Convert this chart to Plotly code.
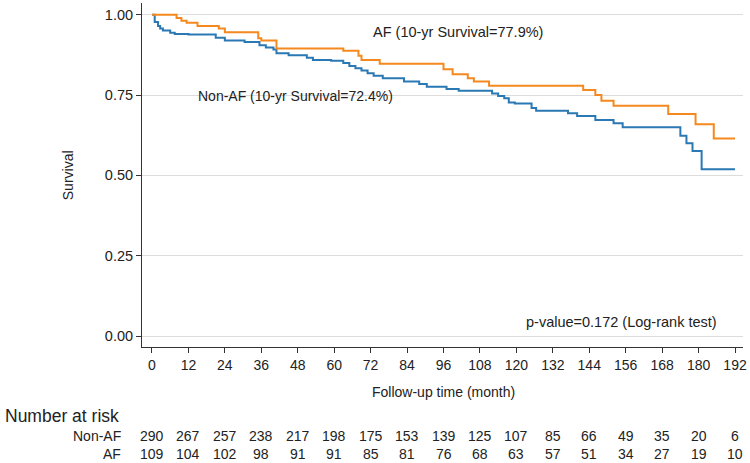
import plotly.graph_objects as go

# ---- data ----
nonaf_time = [0, 0.9, 2, 2.7, 3.6, 6, 7.5, 12, 21, 24, 30.5, 35.4, 37.5, 40, 41, 45, 51, 53, 59,
              63, 65, 67, 69, 71, 73, 76, 83, 88, 90.5, 97, 101, 112, 114, 116, 117.5, 119.5,
              125, 126.5, 137, 140, 146, 152, 155, 174, 176, 178, 181, 192]
nonaf_surv = [1.0, 0.977, 0.965, 0.957, 0.951, 0.944, 0.940, 0.938, 0.928, 0.920, 0.915, 0.905,
              0.898, 0.892, 0.880, 0.874, 0.866, 0.859, 0.857, 0.850, 0.840, 0.833, 0.826, 0.818,
              0.810, 0.802, 0.792, 0.784, 0.776, 0.769, 0.763, 0.755, 0.747, 0.740, 0.727, 0.724,
              0.710, 0.701, 0.693, 0.685, 0.672, 0.662, 0.650, 0.623, 0.600, 0.576, 0.519, 0.519]

af_time = [0, 8.1, 9.7, 11.4, 15, 22, 24, 35, 36, 41, 63, 68, 69, 75, 96, 99, 104, 106, 111,
           142, 146, 148, 152, 170, 179, 185, 192]
af_surv = [1.0, 0.990, 0.981, 0.975, 0.965, 0.957, 0.945, 0.927, 0.920, 0.895, 0.888, 0.872,
           0.859, 0.847, 0.830, 0.815, 0.802, 0.792, 0.779, 0.766, 0.750, 0.732, 0.717, 0.691,
           0.659, 0.615, 0.615]

tick_months = [0, 12, 24, 36, 48, 60, 72, 84, 96, 108, 120, 132, 144, 156, 168, 180, 192]
risk_nonaf = [290, 267, 257, 238, 217, 198, 175, 153, 139, 125, 107, 85, 66, 49, 35, 20, 6]
risk_af = [109, 104, 102, 98, 91, 91, 85, 81, 76, 68, 63, 57, 51, 34, 27, 19, 10]

y_ticks = [0, 0.25, 0.5, 0.75, 1.0]
y_ticklabels = ["0.00", "0.25", "0.50", "0.75", "1.00"]

BLUE = "#2a78b4"
ORANGE = "#f5891f"
FONT = "Liberation Sans, Arial, sans-serif"

fig = go.Figure()
fig.add_trace(go.Scatter(x=nonaf_time, y=nonaf_surv, mode="lines", line=dict(color=BLUE, width=2, shape="hv"),
                         name="Non-AF", showlegend=False))
fig.add_trace(go.Scatter(x=af_time, y=af_surv, mode="lines", line=dict(color=ORANGE, width=2, shape="hv"),
                         name="AF", showlegend=False))

W, H = 750, 463
L, R, T, B = 142, 5, 3, 116
pw = W - L - R
ph = H - T - B

def px_to_paper_y(py):
    return (H - B - py) / ph

def px_to_paper_x(px):
    return (px - L) / pw

ROW1, ROW2 = 436, 454

ann = []
ann.append(dict(x=px_to_paper_x(372), y=px_to_paper_y(32), xref="paper", yref="paper",
                text="AF (10-yr Survival=77.9%)", showarrow=False, xanchor="left", yanchor="middle",
                font=dict(size=14.5, color="#222")))
ann.append(dict(x=px_to_paper_x(196), y=px_to_paper_y(96), xref="paper", yref="paper",
                text="Non-AF (10-yr Survival=72.4%)", showarrow=False, xanchor="left", yanchor="middle",
                font=dict(size=14, color="#222")))
ann.append(dict(x=px_to_paper_x(721), y=px_to_paper_y(322), xref="paper", yref="paper",
                text="p-value=0.172 (Log-rank test)", showarrow=False, xanchor="right", yanchor="middle",
                font=dict(size=14.5, color="#222")))
ann.append(dict(x=px_to_paper_x(68), y=px_to_paper_y(175), xref="paper", yref="paper",
                text="Survival", showarrow=False, textangle=-90, xanchor="center", yanchor="middle",
                font=dict(size=14, color="#222")))
ann.append(dict(x=px_to_paper_x(445), y=px_to_paper_y(392), xref="paper", yref="paper",
                text="Follow-up time (month)", showarrow=False, xanchor="center", yanchor="middle",
                font=dict(size=14, color="#222")))
ann.append(dict(x=px_to_paper_x(4), y=px_to_paper_y(416), xref="paper", yref="paper",
                text="Number at risk", showarrow=False, xanchor="left", yanchor="middle",
                font=dict(size=17.5, color="#222"), borderpad=0))
ann.append(dict(x=px_to_paper_x(122), y=px_to_paper_y(ROW1), xref="paper", yref="paper",
                text="Non-AF", showarrow=False, xanchor="right", yanchor="middle",
                font=dict(size=14, color="#222"), borderpad=0))
ann.append(dict(x=px_to_paper_x(122), y=px_to_paper_y(ROW2), xref="paper", yref="paper",
                text="AF", showarrow=False, xanchor="right", yanchor="middle",
                font=dict(size=14, color="#222"), borderpad=0))
for t, a, b in zip(tick_months, risk_nonaf, risk_af):
    ann.append(dict(x=t, y=px_to_paper_y(ROW1), xref="x", yref="paper", text=str(a), showarrow=False,
                    xanchor="center", yanchor="middle", font=dict(size=14, color="#222"), borderpad=0))
    ann.append(dict(x=t, y=px_to_paper_y(ROW2), xref="x", yref="paper", text=str(b), showarrow=False,
                    xanchor="center", yanchor="middle", font=dict(size=14, color="#222"), borderpad=0))

x0 = -10 / 3.047
x1 = 192 + (745 - 737) / 3.047
y0 = (336 - 347) / 321.3
y1 = (336 - 3) / 321.3

fig.update_layout(
    width=W, height=H,
    margin=dict(l=L, r=R, t=T, b=B),
    paper_bgcolor="white", plot_bgcolor="white",
    font=dict(family=FONT, size=14, color="#222"),
    annotations=ann,
    xaxis=dict(range=[x0, x1], tickmode="array", tickvals=tick_months, ticktext=[str(v) for v in tick_months],
               showgrid=False, zeroline=False, showline=True, linecolor="#333", linewidth=1,
               ticks="outside", ticklen=5, tickcolor="#333", tickfont=dict(size=14)),
    yaxis=dict(range=[y0, y1], tickmode="array", tickvals=y_ticks, ticktext=y_ticklabels,
               showgrid=True, gridcolor="#dcdcdc", gridwidth=1, zeroline=False, showline=True,
               linecolor="#333", linewidth=1, ticks="outside", ticklen=5, tickcolor="#333",
               tickfont=dict(size=14.5)),
)

fig.write_html("out.html")
